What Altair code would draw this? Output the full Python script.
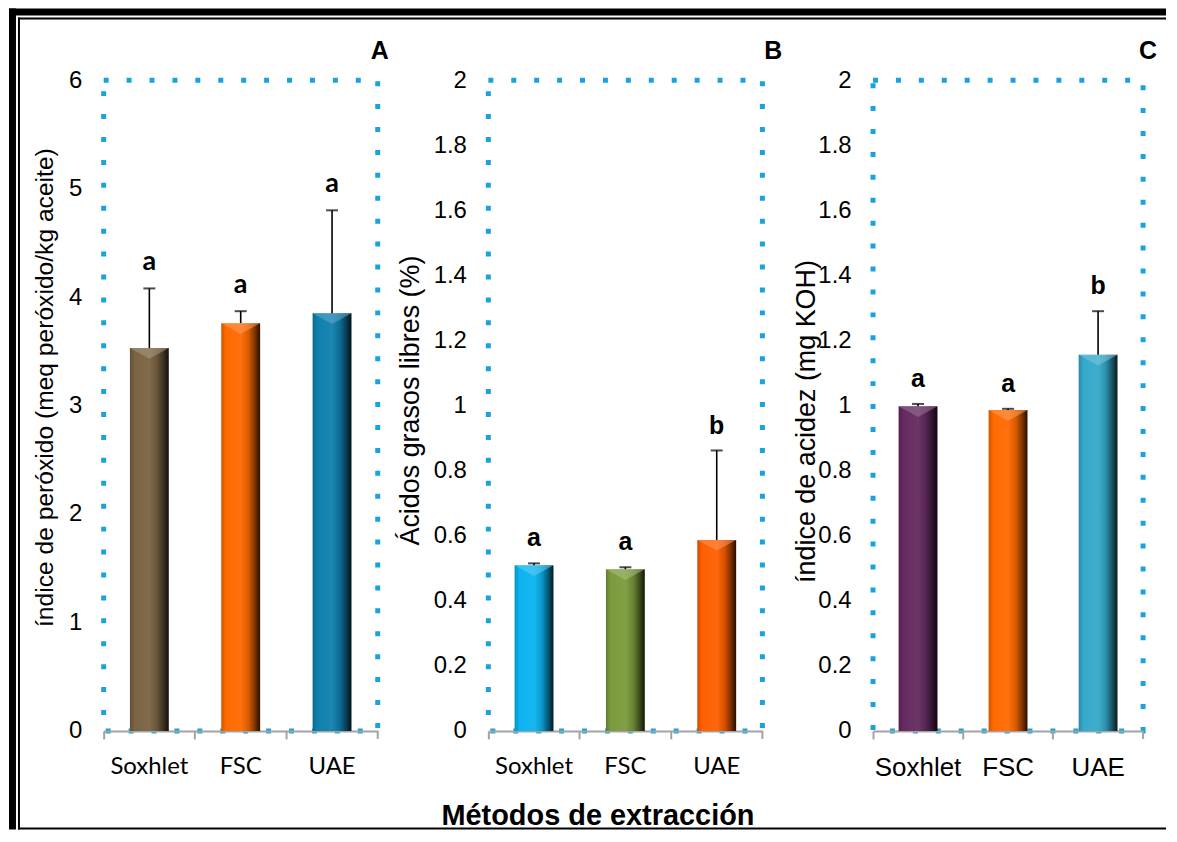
import altair as alt
import pandas as pd

methods = ["Soxhlet", "FSC", "UAE"]

peroxide = [3.53, 3.76, 3.85]
peroxide_err = [0.55, 0.11, 0.95]
peroxide_letters = ["a", "a", "a"]
peroxide_colors = ["#7a6343", "#ff6a00", "#0f80ad"]

ffa = [0.509, 0.497, 0.587]
ffa_err = [0.006, 0.006, 0.275]
ffa_letters = ["a", "a", "b"]
ffa_colors = ["#0bb3f0", "#7b9b3c", "#ff5f00"]

acid = [0.998, 0.986, 1.156]
acid_err = [0.007, 0.004, 0.134]
acid_letters = ["a", "a", "b"]
acid_colors = ["#652a60", "#ff6a00", "#35a9ca"]

ticks_6 = [0, 1, 2, 3, 4, 5, 6]
ticks_2 = [0, 0.2, 0.4, 0.6, 0.8, 1, 1.2, 1.4, 1.6, 1.8, 2]

H = 653
BAR_W = 39
ARIAL = "Liberation Sans"
CALIBRI = "Lato"
DOT_BLUE = "#19a3de"
AXIS_GRAY = "#a3a3a3"

one = pd.DataFrame({"k": [0]})


def shade(hexc, f):
    h = hexc.lstrip("#")
    rgb = [int(h[i:i + 2], 16) for i in (0, 2, 4)]
    if f <= 1:
        out = [c * f for c in rgb]
    else:
        out = [c + (255 - c) * (f - 1) for c in rgb]
    return "#" + "".join(f"{max(0, min(255, int(round(c)))):02x}" for c in out)


def cylinder(hexc):
    stops = [(0.0, 0.8), (0.12, 1.0), (0.5, 1.05), (0.7, 0.85), (0.86, 0.5), (1.0, 0.15)]
    return alt.Gradient(
        gradient="linear", x1=0, x2=1, y1=0, y2=0,
        stops=[alt.GradientStop(offset=o, color=shade(hexc, f)) for o, f in stops],
    )


def block(x1, x2, y1, y2):
    return alt.Chart(one).mark_rect(color="black", strokeWidth=0).encode(
        x=alt.value(x1), x2=alt.value(x2), y=alt.value(y1), y2=alt.value(y2))


def panel(values, errs, letters, colors, ymax, yticks, ytitle, W,
          title_size, title_x, title_y, xfont, xsize, lfont, lsize,
          panel_letter, letter_x, extra=()):
    df = pd.DataFrame({
        "method": methods,
        "value": values,
        "top": [v + e for v, e in zip(values, errs)],
        "letter": letters,
    })
    xs = alt.Scale(type="band", domain=methods, paddingInner=0, paddingOuter=0)
    xaxis = alt.Axis(title=None, labelAngle=0, labelFont=xfont, labelFontSize=xsize,
                     labelColor="black", labelPadding=16, domainColor=AXIS_GRAY,
                     domainWidth=2, tickColor=AXIS_GRAY, tickWidth=2, tickSize=8,
                     bandPosition=0, grid=False)
    ys = alt.Scale(domain=[0, ymax], nice=False, zero=True)
    yaxis = alt.Axis(values=yticks, format="~g", ticks=False, domain=False, grid=False,
                     labelPadding=22, labelFont=ARIAL, labelFontSize=24,
                     labelColor="black", titleFont=ARIAL, titleFontSize=title_size,
                     titleFontWeight="normal", titleColor="black", titleX=title_x,
                     titleY=title_y, titleAngle=270, titleAlign="center",
                     titleBaseline="bottom")
    X = alt.X("method:N", scale=xs, axis=xaxis, sort=methods, title=None)

    def Y(f):
        return alt.Y(f, type="quantitative", scale=ys, axis=yaxis, title=ytitle)

    base = alt.Chart(df)
    layers = []
    for m, c in zip(methods, colors):
        sub = base.transform_filter(alt.datum.method == m)
        layers.append(
            sub.mark_bar(size=BAR_W, color=cylinder(c)).encode(x=X, y=Y("value"))
        )
        # bevelled top highlight of the cylinder-style bar
        layers.append(
            sub.mark_point(shape="M -1 -1 L 1 -1 L 0 -0.45 Z", size=BAR_W * BAR_W,
                           filled=True, color=shade(c, 1.35), opacity=0.55,
                           yOffset=BAR_W / 2, strokeWidth=0)
            .encode(x=X, y=Y("value"))
        )
    layers.append(base.mark_rule(color="black", strokeWidth=1.6).encode(
        x=X, y=Y("value"), y2="top:Q"))
    layers.append(base.mark_tick(color="black", size=12, thickness=2,
                                 orient="horizontal").encode(x=X, y=Y("top")))
    layers.append(base.mark_text(font=lfont, fontSize=lsize, fontWeight="bold",
                                 baseline="bottom", dy=-12, color="black").encode(
        x=X, y=Y("top"), text="letter:N"))
    layers.append(alt.Chart(one).mark_rule(color=AXIS_GRAY, strokeWidth=2).encode(
        x=alt.value(W), y=alt.value(H), y2=alt.value(H + 8)))
    layers.append(alt.Chart(one).mark_text(
        text=panel_letter, font=ARIAL, fontSize=25, fontWeight="bold",
        align="center", baseline="middle", color="black").encode(
        x=alt.value(letter_x), y=alt.value(-29)))
    layers.extend(extra)
    return alt.layer(*layers).properties(width=W, height=H)


border = [
    block(-95, -88, -72, 752),
    block(-95, 1066, -72, -65),
    block(-86, -84, -63, 752),
    block(-86, 1066, -63, -61),
    block(-86, 1066, 750, 752),
]

xtitle = alt.Chart(one).mark_text(
    text="Métodos de extracción", font=ARIAL, fontSize=29, fontWeight="bold",
    align="center", baseline="alphabetic", color="black").encode(
    x=alt.value(110), y=alt.value(747))

pA = panel(peroxide, peroxide_err, peroxide_letters, peroxide_colors, 6, ticks_6,
           "índice de peróxido (meq peróxido/kg aceite)", 275, 24.7, -46, 308,
           CALIBRI, 24, CALIBRI, 27, "A", 277, extra=border)
pB = panel(ffa, ffa_err, ffa_letters, ffa_colors, 2, ticks_2,
           "Ácidos grasos libres (%)", 275, 27, -64, 321,
           CALIBRI, 24, ARIAL, 25, "B", 286, extra=[xtitle])
pC = panel(acid, acid_err, acid_letters, acid_colors, 2, ticks_2,
           "índice de acidez (mg KOH)", 271, 27, -53, 342,
           ARIAL, 26, ARIAL, 25, "C", 276)

chart = (
    alt.hconcat(pA, pB, pC, spacing=111, bounds="flush")
    .properties(padding={"left": -2, "top": -4, "right": 0, "bottom": 0},
                background="white")
    .configure_view(stroke=DOT_BLUE, strokeWidth=5, strokeDash=[5, 18])
)

chart.save("out.html", embed_options={"renderer": "svg", "actions": False})
